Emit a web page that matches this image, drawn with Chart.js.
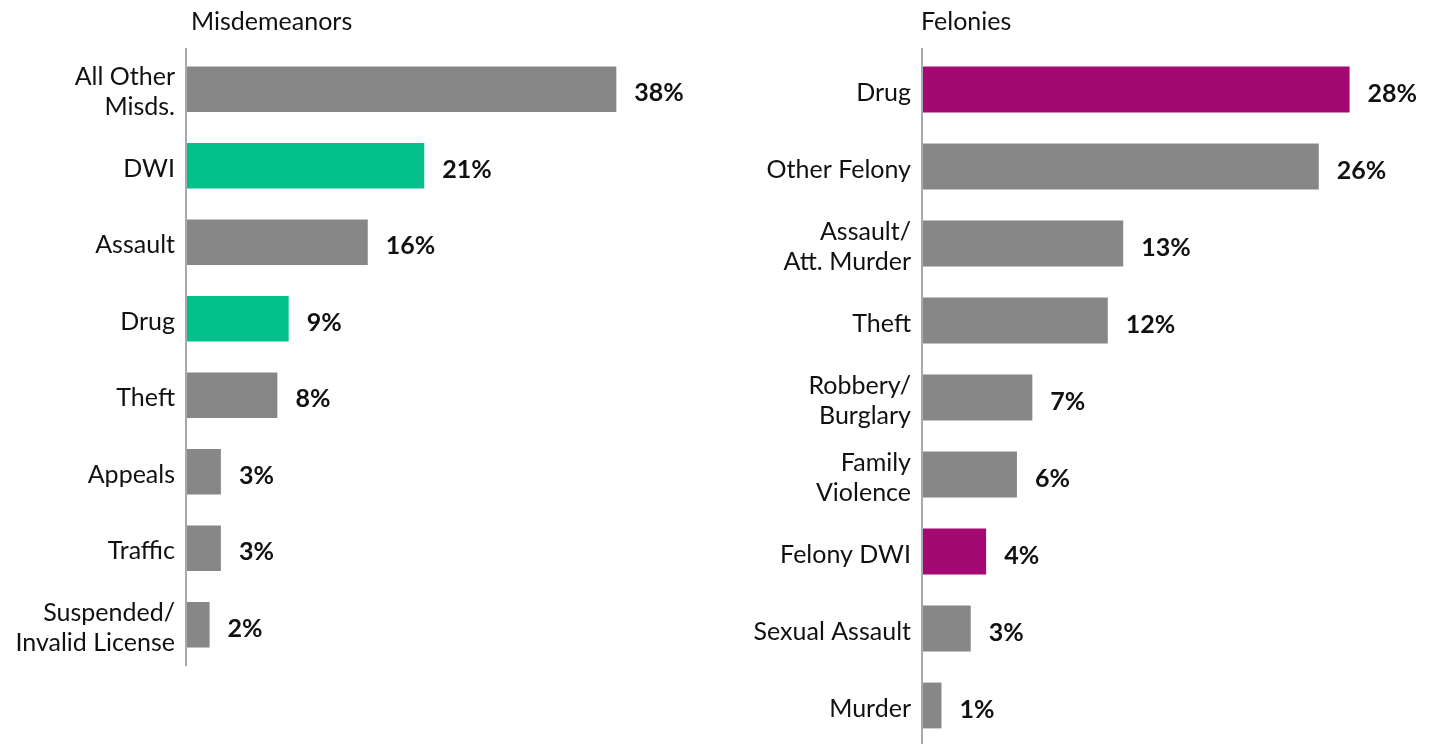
<!DOCTYPE html>
<html>
<head>
<meta charset="utf-8">
<script src="https://cdn.jsdelivr.net/npm/chart.js@4/dist/chart.umd.min.js"></script>
<style>
  html, body { margin: 0; padding: 0; background: #fff; overflow: hidden; }
  .box { position: absolute; top: 0; }
  #leftBox { left: 0; width: 720px; height: 744px; }
  #rightBox { left: 720px; width: 719px; height: 790px; }
</style>
</head>
<body>
<div class="box" id="leftBox"><canvas id="misdChart"></canvas></div>
<div class="box" id="rightBox"><canvas id="felChart"></canvas></div>
<script>
// Misdemeanors
var misdLabels = [['All Other', 'Misds.'], 'DWI', 'Assault', 'Drug', 'Theft', 'Appeals', 'Traffic', ['Suspended/', 'Invalid License']];
var misdValues = [38, 21, 16, 9, 8, 3, 3, 2];
var misdColors = ['#878787', '#03bf8b', '#878787', '#03bf8b', '#878787', '#878787', '#878787', '#878787'];

// Felonies
var felLabels = ['Drug', 'Other Felony', ['Assault/', 'Att. Murder'], 'Theft', ['Robbery/', 'Burglary'], ['Family', 'Violence'], 'Felony DWI', 'Sexual Assault', 'Murder'];
var felValues = [27.7, 25.7, 13.0, 12.0, 7.1, 6.1, 4.1, 3.1, 1.2];
var felColors = ['#a30873', '#878787', '#878787', '#878787', '#878787', '#878787', '#a30873', '#878787', '#878787'];

var FONT = 'Lato, "Open Sans", sans-serif';

// axis line a little longer than the plot area, title and value labels
var decorPlugin = {
	id: 'decor',
	afterDatasetsDraw: function (chart, args, opts) {
		var ctx = chart.ctx;
		var area = chart.chartArea;
		ctx.save();
		ctx.strokeStyle = '#a3aab1';
		ctx.lineWidth = 2;
		ctx.beginPath();
		ctx.moveTo(area.left - 1, area.top - 3);
		ctx.lineTo(area.left - 1, area.bottom + opts.axisExtra);
		ctx.stroke();

		ctx.fillStyle = '#111';
		ctx.font = '25px ' + FONT;
		ctx.textAlign = 'left';
		ctx.textBaseline = 'middle';
		ctx.fillText(opts.title, area.left + opts.titleDx, 22);

		ctx.font = 'bold 25px ' + FONT;
		var meta = chart.getDatasetMeta(0);
		var data = chart.data.datasets[0].data;
		meta.data.forEach(function (bar, i) {
			ctx.fillText(Math.round(data[i]) + '%', bar.x + 18, bar.y + 4);
		});
		ctx.restore();
	}
};

function makeChart (id, labels, values, colors, axisW, xMax, padBottom, axisExtra, title, titleDx) {
	return new Chart(document.getElementById(id).getContext('2d'), {
		type: 'bar',
		data: {
			labels: labels,
			datasets: [{
				data: values,
				backgroundColor: colors,
				categoryPercentage: 1,
				barPercentage: 0.595
			}]
		},
		options: {
			indexAxis: 'y',
			responsive: true,
			maintainAspectRatio: false,
			animation: false,
			layout: { padding: { top: 51, bottom: padBottom, left: 0, right: 20 } },
			scales: {
				x: { display: false, min: 0, max: xMax },
				y: {
					grid: { display: false, drawTicks: false },
					border: { display: false },
					ticks: {
						color: '#111',
						padding: 12,
						labelOffset: 3,
						font: { family: FONT, size: 25, lineHeight: 1.2 }
					},
					afterFit: function (scale) { scale.width = axisW; }
				}
			},
			plugins: {
				legend: { display: false },
				tooltip: { enabled: false },
				decor: { title: title, titleDx: titleDx, axisExtra: axisExtra }
			}
		},
		plugins: [decorPlugin]
	});
}

makeChart('misdChart', misdLabels, misdValues, misdColors, 187, 514 / 11.32, 81, 3, 'Misdemeanors', 4);
makeChart('felChart', felLabels, felValues, felColors, 203, 496 / 15.4, 46, 10, 'Felonies', -2);
</script>
</body>
</html>
